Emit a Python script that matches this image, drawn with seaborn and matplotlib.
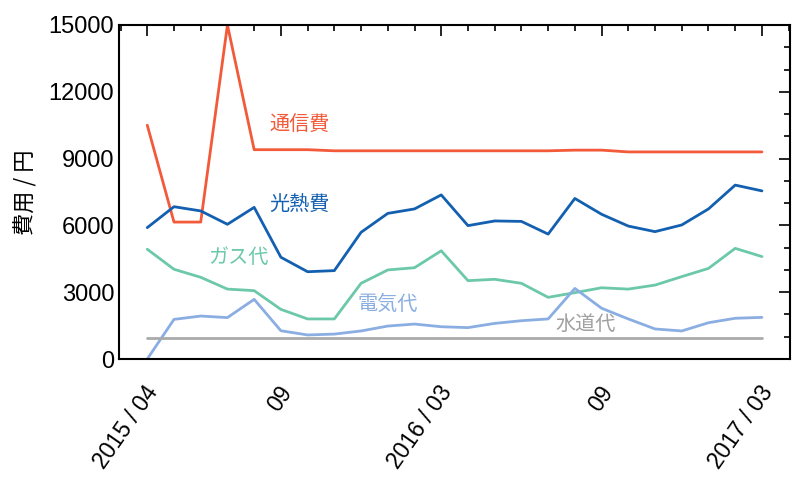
import numpy as np
import pandas as pd
import matplotlib
matplotlib.use("Agg")
import matplotlib.pyplot as plt
import matplotlib.transforms as mtransforms
import seaborn as sns
from matplotlib.ticker import MultipleLocator, FixedLocator

months = list(range(24))
month_ticks = [0, 5, 11, 17, 23]
month_tick_labels = ["2015 / 04", "09", "2016 / 03", "09", "2017 / 03"]

tsushin = [10500, 6150, 6150, 15000, 9400, 9400, 9400, 9350, 9350, 9350, 9350, 9350,
           9350, 9350, 9350, 9350, 9380, 9380, 9300, 9300, 9300, 9300, 9300, 9300]
konetsu = [5900, 6840, 6650, 6050, 6810, 4570, 3920, 3970, 5690, 6540, 6740, 7370,
           5990, 6200, 6180, 5610, 7210, 6500, 5970, 5720, 6020, 6740, 7810, 7550]
gas = [4930, 4030, 3670, 3140, 3070, 2230, 1800, 1800, 3400, 4000, 4100, 4860,
       3520, 3580, 3400, 2770, 2980, 3200, 3140, 3320, 3700, 4070, 4970, 4600]
denki = [0, 1780, 1930, 1860, 2680, 1270, 1080, 1120, 1260, 1480, 1570, 1450,
         1410, 1600, 1720, 1800, 3170, 2280, 1800, 1350, 1260, 1630, 1830, 1870]
suido = [960] * 24

items = ["通信費", "光熱費", "ガス代", "電気代", "水道代"]
line_colors = ["#f25a3a", "#135fb0", "#6cc8aa", "#8aaee2", "#aaaaaa"]

df = pd.DataFrame({
    "month": months * 5,
    "value": tsushin + konetsu + gas + denki + suido,
    "item": sum([[it] * 24 for it in items], []),
})

sns.set_theme(style="white")
plt.rcParams["font.family"] = ["Liberation Sans", "Noto Sans CJK JP", "DejaVu Sans"]
plt.rcParams["text.color"] = "black"
plt.rcParams["xtick.color"] = "black"
plt.rcParams["ytick.color"] = "black"
plt.rcParams["axes.labelcolor"] = "black"

fig = plt.figure(figsize=(8, 4.88), dpi=100)
ax = fig.add_axes([0.149, 0.2643, 0.8385, 0.6845])

sns.lineplot(data=df, x="month", y="value", hue="item", hue_order=items,
             palette=dict(zip(items, line_colors)), linewidth=2.0, legend=False, ax=ax)

ax.set_xlim(-1.05, 24.05)
ax.set_ylim(0, 15000)
ax.xaxis.set_major_locator(FixedLocator(month_ticks))
ax.xaxis.set_minor_locator(MultipleLocator(1))
ax.yaxis.set_major_locator(MultipleLocator(3000))
ax.yaxis.set_minor_locator(MultipleLocator(1000))
ax.tick_params(axis="y", labelsize=17)
ax.tick_params(which="both", direction="in", top=True, right=True, color="black",
               width=1.2)
ax.tick_params(which="major", length=8)
ax.tick_params(which="minor", length=4)
ax.tick_params(axis="x", which="major", pad=6)
ax.set_xticklabels(month_tick_labels, rotation=55, ha="right", va="top",
                   rotation_mode="anchor", fontsize=16.5)
offset = mtransforms.ScaledTranslation(-0.03, -0.14, fig.dpi_scale_trans)
for lbl in ax.get_xticklabels():
    lbl.set_transform(lbl.get_transform() + offset)
for s in ax.spines.values():
    s.set_color("black")
    s.set_linewidth(1.5)

ax.set_xlabel("")
ax.set_ylabel("費用 / 円", fontsize=16, family=["Noto Sans CJK JP"], labelpad=8)

label_pos = [(5.7, 10550), (5.7, 6950), (3.4, 4550), (9.0, 2450), (16.4, 1530)]
label_colors = ["#f25a3a", "#135fb0", "#6cc8aa", "#8aaee2", "#a0a0a0"]
for it, (lx, ly), c in zip(items, label_pos, label_colors):
    ax.text(lx, ly, it, color=c, fontsize=14.5, ha="center", va="center",
            family=["Noto Sans CJK JP"])

fig.savefig("out.png", dpi=100)
